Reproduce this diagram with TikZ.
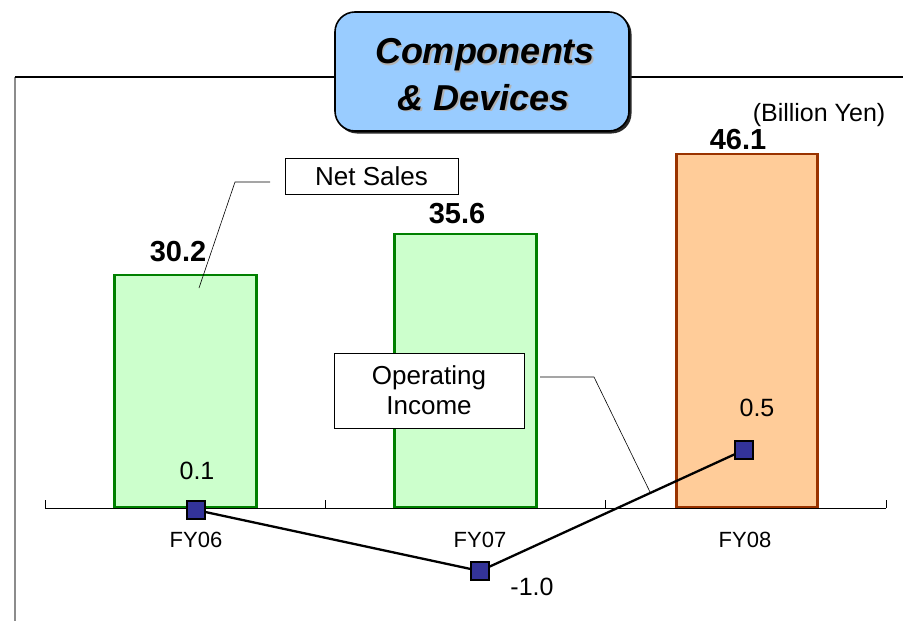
\documentclass[tikz,border=0pt]{standalone}
\usepackage{fontspec}
\setmainfont{Liberation Sans}
\definecolor{barg}{HTML}{CCFFCC}
\definecolor{bargd}{HTML}{008000}
\definecolor{baro}{HTML}{FFCC99}
\definecolor{barod}{HTML}{993300}
\definecolor{titleblue}{HTML}{99CCFF}
\definecolor{markblue}{HTML}{333399}
\tikzset{
  gbar/.style={draw=bargd, fill=barg, line width=2.5pt, inner sep=0pt, anchor=south west},
  obar/.style={draw=barod, fill=baro, line width=2.5pt, inner sep=0pt, anchor=south west},
  opmark/.style={draw=black, fill=markblue, line width=1.5pt, minimum size=18pt, inner sep=0pt},
  vallab/.style={font=\fontsize{29}{30}\selectfont\bfseries, inner sep=0pt},
  oplab/.style={font=\fontsize{25}{26}\selectfont, inner sep=0pt},
  fylab/.style={font=\fontsize{22}{23}\selectfont, inner sep=0pt},
  callout/.style={draw=black, fill=white, line width=1pt, font=\fontsize{26}{30}\selectfont, inner sep=0pt, align=center},
  leader/.style={draw=black, line width=0.6pt},
  ttl/.style={font=\fontsize{36}{40}\selectfont\bfseries\itshape, inner sep=0pt, anchor=base},
}
\begin{document}
\begin{tikzpicture}[x=1pt, y=-1pt]
\useasboundingbox (0,0) rectangle (903,621);
% frame
\coordinate (fbot) at (15,621);
\coordinate (ftl) at (15,77);
\coordinate (fm1) at (335,77);
\coordinate (fm2) at (630,77);
\coordinate (fr) at (903,77);
\draw[line width=2.2pt, gray!90] (fbot) -- (ftl);
\draw[line width=1.3pt] (ftl) -- (fm1);
\draw[line width=1.3pt] (fm2) -- (fr);
% title box
\fill[black!85, rounded corners=20pt] (337,14) rectangle (631.5,133.5);
\draw[fill=titleblue, draw=black, line width=1.6pt, rounded corners=20pt] (335,12) rectangle (629,131);
\node[ttl, text=gray!60] (t1s) at (486.5,65) {Components};
\node[ttl] (t1) at (485,63.5) {Components};
\node[ttl, text=gray!60] (t2s) at (485.5,111.5) {\& Devices};
\node[ttl] (t2) at (484,110) {\& Devices};
\node[font=\fontsize{25}{26}\selectfont, inner sep=0pt, anchor=base] (unit) at (819,121) {(Billion Yen)};
% bars
\node[gbar, minimum width=142pt, minimum height=232pt] (b1) at (113,508) {};
\node[gbar, minimum width=142pt, minimum height=273pt] (b2) at (393,508) {};
\node[obar, minimum width=141pt, minimum height=353pt] (b3) at (675,508) {};
% axis
\coordinate (a0) at (45,508);
\coordinate (a1) at (325,508);
\coordinate (a2) at (605,508);
\coordinate (a3) at (886,508);
\draw[line width=1pt] (a0) -- (a3);
\foreach \c in {a0,a1,a2,a3} \draw[line width=1pt] (\c) -- ++(0,-8);
% value labels
\node[vallab] (v1) at (178,252) {30.2};
\node[vallab] (v2) at (457,214) {35.6};
\node[vallab] (v3) at (738,140) {46.1};
% fy labels
\node[fylab] (f1) at (196,540) {FY06};
\node[fylab] (f2) at (480,540) {FY07};
\node[fylab] (f3) at (745,540) {FY08};
% operating income line
\node[opmark] (m1) at (196,510) {};
\node[opmark] (m2) at (480,571) {};
\node[opmark] (m3) at (744,450) {};
\draw[line width=2.3pt] (m1.center) -- (m2.center) -- (m3.center);
\node[opmark] at (m1) {};
\node[opmark] at (m2) {};
\node[opmark] at (m3) {};
\node[oplab] (o1) at (197,471) {0.1};
\node[oplab] (o2) at (532,587) {-1.0};
\node[oplab] (o3) at (757,408) {0.5};
% callouts
\node[callout, minimum width=173pt, minimum height=36pt] (ns) at (371.5,176.5) {Net Sales};
\coordinate (ns1) at (270,182);
\coordinate (ns2) at (235,182);
\coordinate (ns3) at (199,288);
\draw[leader] (ns1) -- (ns2) -- (ns3);
\node[callout, minimum width=190pt, minimum height=75pt] (oi) at (429,390.5) {Operating\\Income};
\coordinate (oi1) at (540,377);
\coordinate (oi2) at (594,377);
\coordinate (oi3) at (650,492);
\draw[leader] (oi1) -- (oi2) -- (oi3);
\end{tikzpicture}
\end{document}
